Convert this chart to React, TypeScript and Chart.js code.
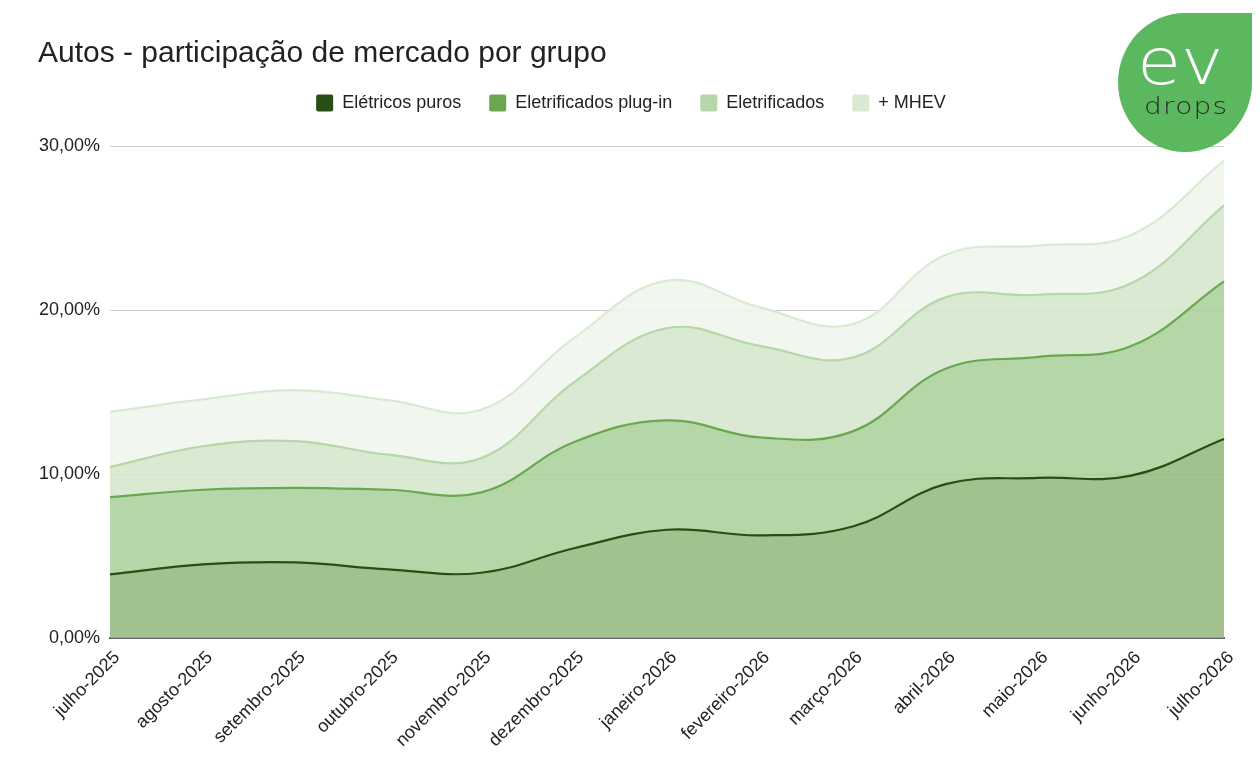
import React, { useEffect, useRef } from 'react';
import { Chart, registerables } from 'chart.js';

Chart.register(...registerables);

const categories = [
  'julho-2025', 'agosto-2025', 'setembro-2025', 'outubro-2025', 'novembro-2025',
  'dezembro-2025', 'janeiro-2026', 'fevereiro-2026', 'março-2026', 'abril-2026',
  'maio-2026', 'junho-2026', 'julho-2026',
];

const seriesNames = ['Elétricos puros', 'Eletrificados plug-in', 'Eletrificados', '+ MHEV'];

const eletricosPuros = [3.88, 4.49, 4.61, 4.18, 3.98, 5.47, 6.6, 6.26, 6.8, 9.38, 9.76, 9.9, 12.14];
const plugIn = [8.59, 9.04, 9.16, 9.04, 8.88, 11.95, 13.27, 12.23, 12.6, 16.42, 17.14, 17.8, 21.75];
const eletrificados = [10.43, 11.69, 12.0, 11.18, 10.98, 15.6, 18.89, 17.81, 17.1, 20.77, 20.93, 21.63, 26.38];
const mhev = [13.79, 14.55, 15.12, 14.5, 13.93, 18.3, 21.79, 20.16, 19.14, 23.36, 23.93, 24.58, 29.1];

const yTicks = [0, 10, 20, 30];

const lineColors = ['#274e13', '#6aa84f', '#b6d7a8', '#d9ead3'];
const fillColors = [
  'rgba(144,183,123,0.85)',
  'rgba(168,207,150,0.85)',
  'rgba(210,229,202,0.85)',
  'rgba(238,246,236,0.85)',
];

const FONT = '"Liberation Sans", Arial, sans-serif';

export default function App() {
  const canvasRef = useRef<HTMLCanvasElement | null>(null);

  useEffect(() => {
    if (!canvasRef.current) return;
    const seriesValues = [eletricosPuros, plugIn, eletrificados, mhev];
    const chart = new Chart(canvasRef.current, {
      type: 'line',
      data: {
        labels: categories,
        datasets: seriesValues.map((vals, i) => ({
          label: seriesNames[i],
          data: vals,
          borderColor: lineColors[i],
          backgroundColor: fillColors[i],
          borderWidth: 2.2,
          pointRadius: 0,
          pointHoverRadius: 0,
          tension: 0.4,
          fill: i === 0 ? 'origin' : '-1',
        })),
      },
      options: {
        animation: false,
        responsive: true,
        maintainAspectRatio: false,
        layout: { padding: { top: 0, left: 38, right: 36, bottom: 0 } },
        plugins: {
          title: {
            display: true,
            text: 'Autos - participação de mercado por grupo',
            align: 'start',
            color: '#222',
            font: { family: FONT, size: 30, weight: 'normal', lineHeight: 0.8 },
            padding: { top: 42, bottom: 0 },
          },
          subtitle: {
            display: true,
            text: '',
            weight: 500,
            font: { size: 1, lineHeight: 1 },
            padding: { top: 23, bottom: 0 },
          } as any,
          legend: {
            display: true,
            position: 'top',
            align: 'center',
            labels: {
              color: '#222',
              font: { family: FONT, size: 18 },
              boxWidth: 17,
              boxHeight: 17,
              padding: 28,
              useBorderRadius: true,
              borderRadius: 2,
              generateLabels: (c: any) => {
                const items = Chart.defaults.plugins.legend.labels.generateLabels(c);
                return items.map((it: any, i: number) => ({
                  ...it,
                  fillStyle: lineColors[i],
                  strokeStyle: lineColors[i],
                  lineWidth: 0,
                }));
              },
            },
          },
          tooltip: { enabled: false },
        },
        scales: {
          x: {
            type: 'category',
            offset: false,
            z: 1,
            grid: { display: false, drawTicks: false },
            border: { display: true, color: '#666', width: 2 },
            ticks: {
              autoSkip: false,
              maxRotation: 45,
              minRotation: 45,
              padding: 9,
              labelOffset: 7,
              color: '#222',
              font: { family: FONT, size: 18 },
            },
            afterFit: (s: any) => {
              s.height = 141;
            },
          },
          y: {
            min: 0,
            max: 30,
            afterBuildTicks: (s: any) => {
              s.ticks = yTicks.map((v) => ({ value: v }));
            },
            grid: {
              drawTicks: false,
              color: (ctx: any) => (ctx.tick && ctx.tick.value === 0 ? 'rgba(0,0,0,0)' : '#cccccc'),
              lineWidth: 1,
            },
            border: { display: false },
            ticks: {
              padding: 10,
              color: '#222',
              font: { family: FONT, size: 18 },
              callback: (v: any) => Number(v).toFixed(2).replace('.', ',') + '%',
            },
            afterFit: (s: any) => {
              s.width = 72;
            },
          },
        },
      },
    });
    return () => chart.destroy();
  }, []);

  return (
    <div style={{ position: 'fixed', left: 0, top: 0, width: 1260, height: 779, background: '#fff' }}>
      <canvas ref={canvasRef} />
      <div
        style={{
          position: 'absolute',
          left: 1118,
          top: 13,
          width: 134,
          height: 139,
          background: '#5cb85f',
          borderRadius: '50% 0 50% 50%',
        }}
      >
        <span
          style={{
            position: 'absolute',
            left: 19,
            top: 17,
            fontFamily: '"DejaVu Sans", sans-serif',
            fontWeight: 200,
            fontSize: 64,
            lineHeight: 1,
            color: '#fff',
            letterSpacing: 0,
            transform: 'scaleX(1.12)',
            transformOrigin: 'left top',
            whiteSpace: 'nowrap',
          }}
        >
          ev
        </span>
        <span
          style={{
            position: 'absolute',
            left: 26,
            top: 82,
            fontFamily: '"DejaVu Sans", sans-serif',
            fontWeight: 200,
            fontSize: 23,
            lineHeight: 1,
            color: '#2a2a2a',
            letterSpacing: 1,
            transform: 'scaleX(1.22)',
            transformOrigin: 'left top',
            whiteSpace: 'nowrap',
          }}
        >
          drops
        </span>
      </div>
    </div>
  );
}
